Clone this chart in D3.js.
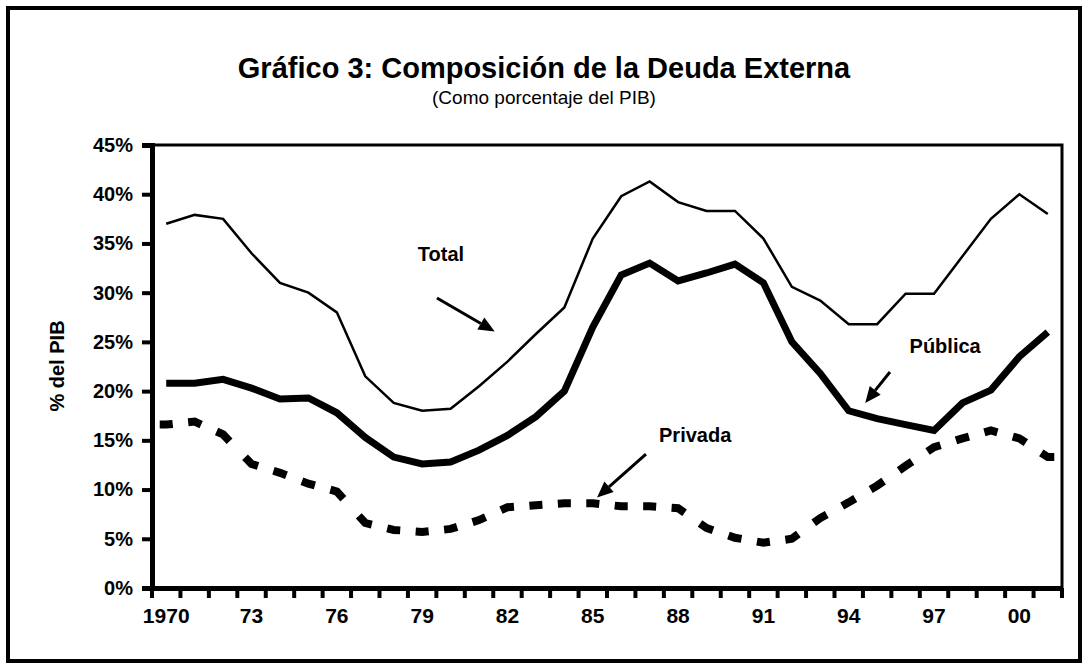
<!DOCTYPE html>
<html><head><meta charset="utf-8">
<script src="https://cdn.jsdelivr.net/npm/d3@7"></script>
<style>
body{margin:0;background:#fff}
svg{display:block}
text{font-family:"Liberation Sans",Arial,sans-serif;fill:#000}
</style>
</head><body>
<svg id="c" width="1088" height="669"></svg>
<script>
const years = [1970,1971,1972,1973,1974,1975,1976,1977,1978,1979,1980,1981,1982,1983,1984,1985,
               1986,1987,1988,1989,1990,1991,1992,1993,1994,1995,1996,1997,1998,1999,2000,2001];
const total   = [37.0,37.9,37.5,34.0,31.0,30.0,28.0,21.5,18.8,18.0,18.2,20.5,23.0,25.8,28.5,35.5,
                 39.8,41.3,39.2,38.3,38.3,35.5,30.6,29.2,26.8,26.8,29.9,29.9,33.7,37.5,40.0,38.0];
const publica = [20.8,20.8,21.2,20.3,19.2,19.3,17.8,15.3,13.3,12.6,12.8,14.0,15.5,17.4,20.0,26.5,
                 31.8,33.0,31.2,32.0,32.9,31.0,25.0,21.8,18.0,17.2,16.6,16.0,18.8,20.1,23.5,26.0];
const privada = [16.6,16.9,15.6,12.6,11.7,10.6,9.8,6.6,5.9,5.7,6.0,6.9,8.2,8.4,8.6,8.6,
                 8.3,8.3,8.1,6.1,5.1,4.6,5.0,7.1,8.7,10.4,12.4,14.3,15.2,16.0,15.2,13.3];
const yTicks = [0,5,10,15,20,25,30,35,40,45];
const xTickYears  = [1970,1973,1976,1979,1982,1985,1988,1991,1994,1997,2000];
const xTickLabels = ["1970","73","76","79","82","85","88","91","94","97","00"];
const titleText = "Gráfico 3: Composición de la Deuda Externa";
const subtitleText = "(Como porcentaje del PIB)";
const yTitle = "% del PIB";
// annotations in data space: [year, value]
const annotations = [
  {label:"Total",   at:[1979.66,33.9], from:[1979.52,29.46], to:[1981.55,26.05]},
  {label:"Privada", at:[1988.6,15.54], from:[1986.87,13.61], to:[1985.15,9.2]},
  {label:"Pública", at:[1997.39,24.58], from:[1995.45,21.94], to:[1994.58,18.8]}
];

const svg = d3.select("#c");
const L = 152, R = 1062, T = 145, B = 588;

const x = d3.scaleBand().domain(years).range([L, R]).padding(0);
const xl = d3.scaleLinear().domain([years[0]-0.5, years[years.length-1]+0.5]).range([L, R]);
const y = d3.scaleLinear().domain([0,45]).range([B, T]);
const cx = d => x(d) + x.bandwidth()/2;

// outer frame
svg.append("rect").attr("x",8).attr("y",8).attr("width",1072).attr("height",653)
  .attr("fill","none").attr("stroke","#000").attr("stroke-width",4);

// title
svg.append("text").attr("x",544).attr("y",78).attr("text-anchor","middle")
  .style("font-size","29px").style("font-weight","bold").text(titleText);
svg.append("text").attr("x",544).attr("y",104).attr("text-anchor","middle")
  .style("font-size","19px").text(subtitleText);

// plot frame
svg.append("rect").attr("x",L).attr("y",T).attr("width",R-L).attr("height",B-T)
  .attr("fill","none").attr("stroke","#000").attr("stroke-width",3);

// y axis
const ya = svg.append("g").attr("transform",`translate(${L},0)`)
  .call(d3.axisLeft(y).tickValues(yTicks).tickFormat(d => d + "%").tickSize(10).tickPadding(9));
ya.select(".domain").attr("stroke-width",5);
ya.selectAll(".tick line").attr("stroke-width",4);
ya.selectAll("text").style("font-size","20px").style("font-weight","bold").style("font-family","'Liberation Sans',Arial,sans-serif");

// x axis labels
const xa = svg.append("g").attr("transform",`translate(0,${B})`)
  .call(d3.axisBottom(x).tickValues(xTickYears)
    .tickFormat(d => xTickLabels[xTickYears.indexOf(d)]).tickSize(0).tickPadding(20));
xa.select(".domain").attr("stroke-width",5);
xa.selectAll("text").style("font-size","21px").style("font-weight","bold").style("font-family","'Liberation Sans',Arial,sans-serif");
// x tick marks at category boundaries
const edges = years.map(d => x(d)).concat([x(years[years.length-1]) + x.bandwidth()]);
svg.append("g").selectAll("line").data(edges).join("line")
  .attr("x1",d=>d).attr("x2",d=>d).attr("y1",B).attr("y2",B+10)
  .attr("stroke","#000").attr("stroke-width",4);

// y title
svg.append("text").attr("transform","translate(64,366) rotate(-90)").attr("text-anchor","middle")
  .style("font-size","20px").style("font-weight","bold").text(yTitle);

// lines
const line = d3.line().x((d,i)=>cx(years[i])).y(d=>y(d));
svg.append("path").datum(total).attr("d",line).attr("fill","none")
  .attr("stroke","#000").attr("stroke-width",2.5);
svg.append("path").datum(publica).attr("d",line).attr("fill","none")
  .attr("stroke","#000").attr("stroke-width",7);

// privada: dashes centered at each data point along the polyline
const half = 6.5;
const pts = privada.map((v,i)=>[cx(years[i]), y(v)]);
function interp(a,b,dx){ const t = dx/(b[0]-a[0]); return [a[0]+(b[0]-a[0])*t, a[1]+(b[1]-a[1])*t]; }
const dashes = pts.map((p,i)=>{
  const seg=[];
  if(i>0) seg.push(interp(p, pts[i-1], -half)); else seg.push([p[0]-half, p[1]]);
  seg.push(p);
  if(i<pts.length-1) seg.push(interp(p, pts[i+1], half)); else seg.push([p[0]+half, p[1]]);
  return seg;
});
svg.append("g").selectAll("path").data(dashes).join("path")
  .attr("d", d3.line()).attr("fill","none").attr("stroke","#000").attr("stroke-width",8);

// annotations
annotations.forEach(a=>{
  svg.append("text").attr("x",xl(a.at[0])).attr("y",y(a.at[1])).attr("dy","0.35em")
    .attr("text-anchor","middle").style("font-size","20px").style("font-weight","bold").text(a.label);
  const x1=xl(a.from[0]), y1=y(a.from[1]), x2=xl(a.to[0]), y2=y(a.to[1]);
  const dx=x2-x1, dy=y2-y1, len=Math.hypot(dx,dy), ux=dx/len, uy=dy/len;
  const hl=16, hw=7;
  const bx=x2-ux*hl, by=y2-uy*hl;
  svg.append("line").attr("x1",x1).attr("y1",y1).attr("x2",bx).attr("y2",by)
    .attr("stroke","#000").attr("stroke-width",3);
  svg.append("path").attr("d",`M${x2},${y2}L${bx-uy*hw},${by+ux*hw}L${bx+uy*hw},${by-ux*hw}Z`)
    .attr("fill","#000");
});
</script>
</body></html>
